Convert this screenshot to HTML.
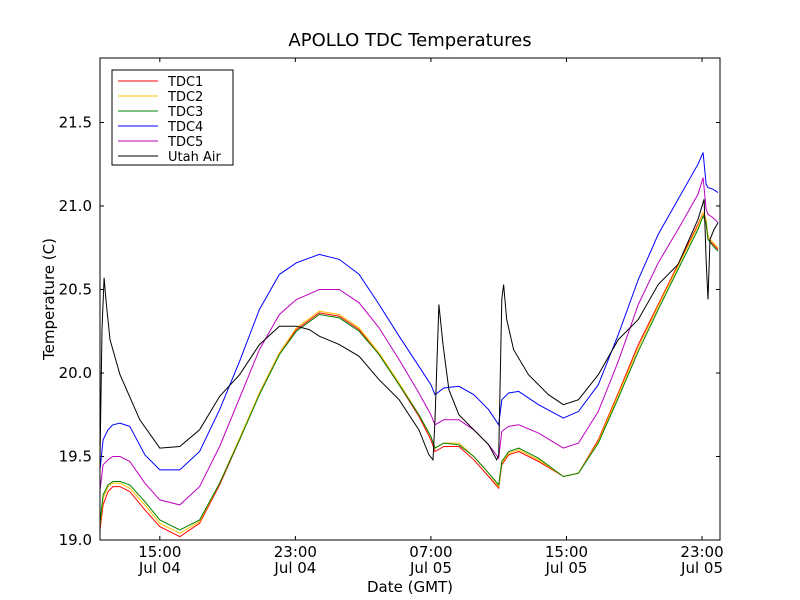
<!DOCTYPE html>
<html><head><meta charset="utf-8"><style>
body{margin:0;background:#fff;}
svg{display:block;font-family:"DejaVu Sans","Liberation Sans",sans-serif;}
</style></head><body>
<svg id="chart" width="800" height="600">
<rect x="0" y="0" width="800" height="600" fill="#fff"/>
<text x="410" y="46" text-anchor="middle" font-size="18">APOLLO TDC Temperatures</text>
<text x="410" y="592" text-anchor="middle" font-size="15">Date (GMT)</text>
<text x="54" y="299" text-anchor="middle" font-size="15" transform="rotate(-90 54 299)">Temperature (C)</text>
<g id="plot"></g>
<rect x="100" y="58" width="620" height="482" fill="none" stroke="#000" stroke-width="1"/>
<g id="legend"></g>
</svg>
<script>
const times = [11.47,11.65,11.94,12.23,12.65,13.23,14.12,15.0,16.18,17.35,18.53,19.71,20.88,22.06,23.06,24.41,25.59,26.76,27.94,29.12,30.29,31.0,31.24,31.76,32.65,33.53,34.41,35.0,35.18,35.59,36.18,37.35,38.82,39.71,40.88,42.06,43.24,44.41,45.59,46.76,47.06,47.24,47.35,47.65,47.94];
const tdc1 = [19.06,19.21,19.29,19.32,19.32,19.29,19.18,19.08,19.02,19.10,19.33,19.60,19.88,20.12,20.26,20.36,20.34,20.26,20.11,19.93,19.74,19.60,19.53,19.56,19.56,19.48,19.38,19.31,19.45,19.51,19.53,19.47,19.38,19.40,19.60,19.88,20.17,20.41,20.65,20.89,20.96,20.90,20.80,20.77,20.74];
const tdc2 = [19.08,19.25,19.32,19.34,19.34,19.31,19.21,19.10,19.04,19.11,19.34,19.61,19.88,20.12,20.27,20.37,20.35,20.27,20.12,19.94,19.75,19.62,19.55,19.58,19.58,19.50,19.40,19.32,19.46,19.52,19.54,19.48,19.38,19.40,19.59,19.87,20.15,20.40,20.64,20.88,20.96,20.92,20.82,20.78,20.75];
const tdc3 = [19.10,19.27,19.33,19.35,19.35,19.33,19.23,19.12,19.06,19.12,19.34,19.60,19.87,20.11,20.25,20.35,20.33,20.25,20.11,19.93,19.75,19.62,19.55,19.58,19.57,19.50,19.40,19.33,19.47,19.53,19.55,19.49,19.38,19.40,19.58,19.85,20.13,20.38,20.62,20.86,20.94,20.90,20.80,20.76,20.73];
const tdc4 = [19.42,19.60,19.66,19.69,19.70,19.68,19.51,19.42,19.42,19.53,19.78,20.07,20.38,20.59,20.66,20.71,20.68,20.59,20.41,20.22,20.04,19.93,19.87,19.91,19.92,19.87,19.78,19.69,19.84,19.88,19.89,19.81,19.73,19.77,19.93,20.23,20.56,20.83,21.04,21.25,21.32,21.13,21.11,21.10,21.08];
const tdc5 = [19.30,19.45,19.48,19.50,19.50,19.47,19.34,19.24,19.21,19.32,19.56,19.85,20.14,20.35,20.44,20.50,20.50,20.42,20.27,20.08,19.88,19.75,19.69,19.72,19.72,19.66,19.57,19.49,19.65,19.68,19.69,19.64,19.55,19.58,19.77,20.07,20.41,20.66,20.86,21.07,21.17,20.98,20.95,20.93,20.90];
const airTimes = [11.47,11.59,11.71,11.82,12.06,12.65,13.82,15.0,16.18,17.35,18.53,19.71,20.88,22.06,23.06,23.82,24.41,25.59,26.76,27.94,29.12,30.29,30.88,31.12,31.24,31.47,31.71,32.06,32.65,33.53,34.41,34.88,35.0,35.18,35.29,35.47,35.88,36.76,37.94,38.82,39.71,40.88,42.06,43.24,44.41,45.59,46.76,47.12,47.24,47.35,47.47,47.71,47.94];
const air = [19.48,20.26,20.57,20.44,20.20,19.99,19.72,19.55,19.56,19.66,19.86,19.99,20.17,20.28,20.28,20.26,20.22,20.17,20.10,19.96,19.84,19.66,19.51,19.48,19.72,20.41,20.17,19.90,19.75,19.66,19.57,19.48,19.51,20.44,20.53,20.32,20.14,19.99,19.87,19.81,19.84,19.99,20.20,20.32,20.53,20.65,20.92,21.04,20.68,20.44,20.80,20.86,20.90];
const yTicks = [19.0,19.5,20.0,20.5,21.0,21.5];
const yTickLabels = ["19.0","19.5","20.0","20.5","21.0","21.5"];
const xTicks = [15,23,31,39,47];
const xTickLabels1 = ["15:00","23:00","07:00","15:00","23:00"];
const xTickLabels2 = ["Jul 04","Jul 04","Jul 05","Jul 05","Jul 05"];
const seriesNames = ["TDC1","TDC2","TDC3","TDC4","TDC5","Utah Air"];

const NS="http://www.w3.org/2000/svg";
const X0=100,X1=720,Y0=540,Y1=58, xmin=11.47,xmax=48.06,ymin=19.0,ymax=21.886;
const xs=t=>X0+(t-xmin)/(xmax-xmin)*(X1-X0);
const ys=v=>Y0-(v-ymin)/(ymax-ymin)*(Y0-Y1);
const plot=document.getElementById('plot');
function mk(tag,attrs,parent){const e=document.createElementNS(NS,tag);for(const k in attrs)e.setAttribute(k,attrs[k]);parent.appendChild(e);return e;}

yTicks.forEach((v,i)=>{
  const y=ys(v);
  const g=mk('g',{},plot);
  
  
  mk('line',{x1:X0,x2:X0+4,y1:y,y2:y,stroke:'#000'},g);
  mk('line',{x1:X1-4,x2:X1,y1:y,y2:y,stroke:'#000'},g);
  const t=mk('text',{x:X0-8,y:y+5,'text-anchor':'end','font-size':15},g);
  t.textContent=yTickLabels[i];
});
xTicks.forEach((h,i)=>{
  const x=xs(h);
  const g=mk('g',{},plot);
  
  
  mk('line',{x1:x,x2:x,y1:Y0,y2:Y0-4,stroke:'#000'},g);
  mk('line',{x1:x,x2:x,y1:Y1,y2:Y1+4,stroke:'#000'},g);
  const t1=mk('text',{x:x,y:Y0+17,'text-anchor':'middle','font-size':15},g);t1.textContent=xTickLabels1[i];
  const t2=mk('text',{x:x,y:Y0+33,'text-anchor':'middle','font-size':15},g);t2.textContent=xTickLabels2[i];
});
const colors=["#ff0000","#ffbf00","#008000","#0000ff","#bf00bf","#000000"];
const all=[[times,tdc1],[times,tdc2],[times,tdc3],[times,tdc4],[times,tdc5],[airTimes,air]];
all.forEach(([tt,vv],i)=>{
  const d=tt.map((t,j)=>(j?'L':'M')+xs(t).toFixed(1)+','+ys(vv[j]).toFixed(1)).join('');
  const p=mk('path',{d:d,fill:'none',stroke:colors[i],'stroke-width':1},plot);
  
  
});
const lg=document.getElementById('legend');
mk('rect',{x:112,y:70,width:121,height:95,fill:'#fff',stroke:'#000'},lg);
seriesNames.forEach((n,i)=>{
  const y=81+i*15;
  const g=mk('g',{},lg);
  
  
  mk('line',{x1:118,x2:158,y1:y,y2:y,stroke:colors[i]},g);
  const t=mk('text',{x:168,y:y+5,'font-size':13},g);t.textContent=n;
});
</script>
</body></html>
